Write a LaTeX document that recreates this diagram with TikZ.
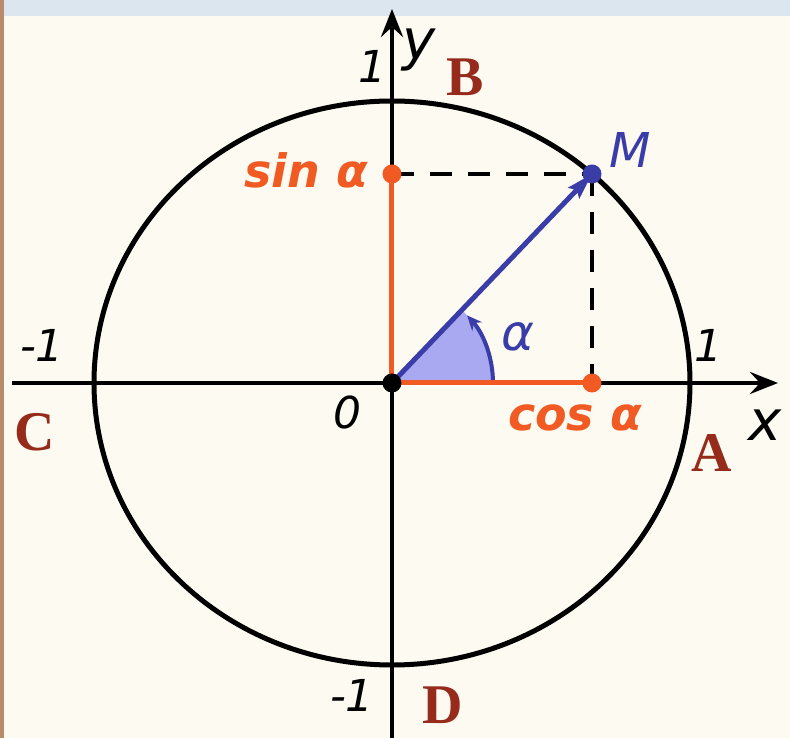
\documentclass[tikz,border=0pt]{standalone}
\usepackage{fontspec}
\setmainfont{Liberation Serif}
\setsansfont{DejaVu Sans}
\usetikzlibrary{arrows.meta}

\definecolor{paper}{HTML}{FCFAF1}
\definecolor{topband}{HTML}{DCE6EE}
\definecolor{frameedge}{HTML}{B88C6A}
\definecolor{projorange}{HTML}{F15A22}
\definecolor{vecblue}{HTML}{3A3DA8}
\definecolor{anglefill}{HTML}{A9A9F2}
\definecolor{letterred}{HTML}{962B1B}

\begin{document}
\begin{tikzpicture}[
  x=1pt, y=1pt,
  axis/.style={line width=4.6pt, -{Stealth[length=28pt, width=22pt, inset=10pt]}},
  unitcircle/.style={line width=5pt},
  proj/.style={line width=5pt, projorange},
  guide/.style={line width=3.6pt, dash pattern=on 22pt off 16pt},
  vec/.style={line width=5pt, vecblue, -{Stealth[length=26pt, width=15pt, inset=4pt]}},
  dot/.style={circle, inner sep=0pt, minimum size=19pt},
  numlbl/.style={font=\fontsize{44}{44}\selectfont\sffamily\itshape},
  axlbl/.style={font=\fontsize{56}{56}\selectfont\sffamily\itshape},
  ptlbl/.style={font=\fontsize{56}{56}\selectfont\bfseries, text=letterred},
  trig/.style={font=\fontsize{46}{46}\selectfont\sffamily\bfseries\itshape, text=projorange}
]

% background
\fill[paper] (-392,-355) rectangle (398,383);
\fill[topband] (-392,367) rectangle (398,383);
\fill[frameedge] (-392,-355) rectangle (-388,383);
\useasboundingbox (-392,-355) rectangle (398,383);

\coordinate (orig) at (0,0);
\coordinate (M) at (200,209);
\coordinate (sinpt) at (0,209);
\coordinate (cospt) at (200,0);
\coordinate (xstart) at (-380,0);
\coordinate (xend) at (386,0);
\coordinate (ystart) at (0,-360);
\coordinate (yend) at (0,374);

% angle
\fill[anglefill] (orig) -- (101,0) arc (0:46.3:101) -- cycle;
\draw[vecblue, line width=4pt, -{Stealth[length=15pt, width=13pt]}] (101,0) arc (0:42:101);

\draw[unitcircle] (orig) ellipse [x radius=298, y radius=282];
\draw[axis] (xstart) -- (xend);
\draw[axis] (ystart) -- (yend);

\draw[guide] (sinpt) -- (M);
\draw[guide] (M) -- (cospt);
\draw[proj] (orig) -- (sinpt);
\draw[proj] (orig) -- (cospt);
\draw[vec] (orig) -- (M);

\node[dot, fill=projorange] (sindot) at (sinpt) {};
\node[dot, fill=projorange] (cosdot) at (cospt) {};
\node[dot, fill=vecblue] (Mdot) at (M) {};
\node[dot, fill=black] (origdot) at (orig) {};

% labels
\node[numlbl] (oneY) at (-20,317) {1};
\node[axlbl] (lbly) at (27,333) {y};
\node[ptlbl] (lblB) at (73,306) {B};
\node[axlbl, text=vecblue, font=\fontsize{48}{48}\selectfont\sffamily\itshape] (lblM) at (238,233) {M};
\node[trig] (lblsin) at (-86,213) {sin α};
\node[axlbl, text=vecblue, font=\fontsize{50}{50}\selectfont\sffamily\itshape] (lblalpha) at (126,46) {α};
\node[numlbl] (minusoneX) at (-350,38) {-1};
\node[numlbl] (oneX) at (316,38) {1};
\node[ptlbl] (lblC) at (-357,-49) {C};
\node[numlbl] (lblzero) at (-45,-29) {0};
\node[trig] (lblcos) at (183,-35) {cos α};
\node[axlbl] (lblx) at (373,-42) {x};
\node[ptlbl] (lblA) at (320,-70) {A};
\node[numlbl] (minusoneY) at (-40,-312) {-1};
\node[ptlbl] (lblD) at (51,-322) {D};

\end{tikzpicture}
\end{document}
